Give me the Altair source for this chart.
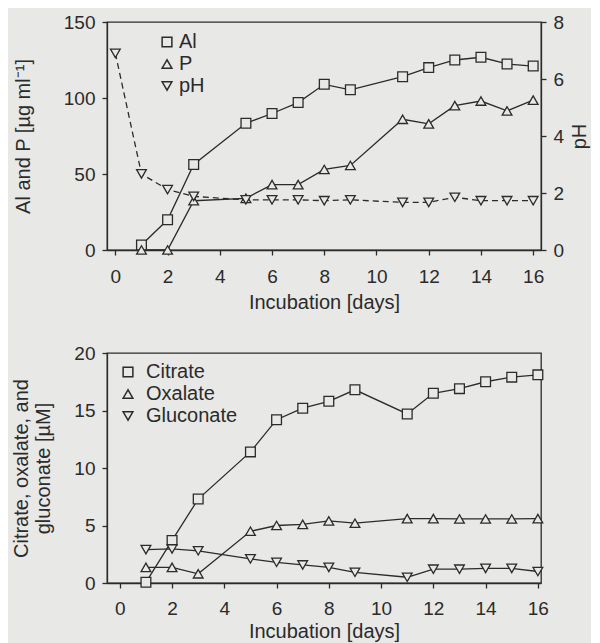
import altair as alt
import pandas as pd

# ---------------- data ----------------
days_top = [1, 2, 3, 5, 6, 7, 8, 9, 11, 12, 13, 14, 15, 16]
al_vals = [3.3, 19.9, 56.3, 83.4, 89.8, 97.0, 109.0, 105.4, 114.0, 120.0, 125.0, 126.8, 122.4, 121.0]
p_vals = [0.0, 0.0, 32.4, 34.0, 43.0, 43.0, 53.0, 55.6, 86.0, 83.0, 95.0, 98.0, 91.5, 98.6]
ph_days = [0, 1, 2, 3, 5, 6, 7, 8, 9, 11, 12, 13, 14, 15, 16]
ph_vals = [6.9, 2.67, 2.12, 1.88, 1.76, 1.76, 1.76, 1.73, 1.76, 1.67, 1.67, 1.85, 1.73, 1.73, 1.73]

days_bot = [1, 2, 3, 5, 6, 7, 8, 9, 11, 12, 13, 14, 15, 16]
citrate = [0.06, 3.7, 7.3, 11.4, 14.2, 15.2, 15.8, 16.8, 14.7, 16.5, 16.9, 17.5, 17.9, 18.1]
oxalate = [1.36, 1.36, 0.8, 4.5, 5.0, 5.1, 5.4, 5.2, 5.6, 5.6, 5.57, 5.57, 5.57, 5.6]
gluconate = [2.9, 2.96, 2.8, 2.1, 1.8, 1.57, 1.36, 0.93, 0.5, 1.2, 1.2, 1.27, 1.27, 1.0]

x_ticks = [0, 2, 4, 6, 8, 10, 12, 14, 16]

# ---------------- style ----------------
BG = "#e8e8e6"
INK = "#2b2b2b"
FONT = "Liberation Sans"
LW = 1.3
MSIZE = 95
LBL = 19
TTL = 20

top_df = pd.DataFrame({
    "day": days_top * 2,
    "value": al_vals + p_vals,
    "series": ["Al"] * len(days_top) + ["P"] * len(days_top),
})
ph_df = pd.DataFrame({"day": ph_days, "value": ph_vals, "series": ["pH"] * len(ph_days)})
bot_df = pd.DataFrame({
    "day": days_bot * 3,
    "value": citrate + oxalate + gluconate,
    "series": ["Citrate"] * len(days_bot) + ["Oxalate"] * len(days_bot) + ["Gluconate"] * len(days_bot),
})

shape_top = alt.Scale(domain=["Al", "P", "pH"], range=["square", "triangle-up", "triangle-down"])
shape_bot = alt.Scale(domain=["Citrate", "Oxalate", "Gluconate"],
                      range=["square", "triangle-up", "triangle-down"])


def legend(x, y, lo):
    return alt.Legend(
        title=None, orient="none", legendX=x, legendY=y,
        labelFont=FONT, labelFontSize=TTL, labelColor=INK, labelOffset=lo,
        symbolSize=MSIZE, rowPadding=2,
    )


def x_axis(lp, tp):
    return alt.Axis(values=x_ticks, title="Incubation [days]", labelPadding=lp,
                    titlePadding=tp, tickSize=5)


def points(base, x, y, shape):
    return base.mark_point(filled=False, color=INK, fill=BG, strokeWidth=LW,
                           size=MSIZE, opacity=1).encode(x=x, y=y, shape=shape)


# ---------------- top panel ----------------
x_top = alt.X("day:Q", scale=alt.Scale(domain=[-0.32, 16.3], nice=False, zero=False),
              axis=x_axis(12, 6))
y_left = alt.Y("value:Q", scale=alt.Scale(domain=[0, 150], nice=False),
               axis=alt.Axis(values=[0, 50, 100, 150], title="Al and P [µg ml⁻¹]",
                             titlePadding=30, orient="left"))
y_right = alt.Y("value:Q", scale=alt.Scale(domain=[0, 8], nice=False),
                axis=alt.Axis(values=[0, 2, 4, 6, 8], title="pH", orient="right",
                              titleAngle=270, titleBaseline="top", titlePadding=6))

shape_enc_top = alt.Shape("series:N", scale=shape_top, legend=legend(50, 10, 2))

base_top = alt.Chart(top_df)
lines_top = base_top.mark_line(color=INK, strokeWidth=LW).encode(x=x_top, y=y_left, detail="series:N")
pts_top = points(base_top, x_top, y_left, shape_enc_top)
left_layer = alt.layer(lines_top, pts_top)

base_ph = alt.Chart(ph_df)
line_ph = base_ph.mark_line(color=INK, strokeWidth=LW, strokeDash=[6, 4]).encode(x=x_top, y=y_right)
pts_ph = points(base_ph, x_top, y_right, shape_enc_top)
right_layer = alt.layer(line_ph, pts_ph)

top = alt.layer(left_layer, right_layer).resolve_scale(y="independent").properties(width=434, height=228)

# ---------------- bottom panel ----------------
x_bot = alt.X("day:Q", scale=alt.Scale(domain=[-0.49, 16.12], nice=False, zero=False),
              axis=x_axis(11, 3))
y_bot = alt.Y("value:Q", scale=alt.Scale(domain=[0, 20], nice=False),
              axis=alt.Axis(values=[0, 5, 10, 15, 20],
                            title=["Citrate, oxalate, and", "gluconate [µM]"],
                            titlePadding=20))
base_bot = alt.Chart(bot_df)
lines_bot = base_bot.mark_line(color=INK, strokeWidth=LW).encode(x=x_bot, y=y_bot, detail="series:N")
pts_bot = points(base_bot, x_bot, y_bot,
                 alt.Shape("series:N", scale=shape_bot, legend=legend(11, 9, 8)))
bottom = alt.layer(lines_bot, pts_bot).properties(width=434, height=230)

chart = alt.vconcat(top, bottom, spacing=30).resolve_scale(
    x="independent", y="independent", shape="independent"
).resolve_legend(shape="independent").properties(
    background=BG, padding={"left": 3, "top": 4, "right": 0, "bottom": 4}
).configure_view(
    stroke=INK, strokeWidth=LW
).configure_axis(
    grid=False, domainColor=INK, domainWidth=LW, tickColor=INK, tickWidth=LW,
    labelColor=INK, titleColor=INK, labelFont=FONT, titleFont=FONT,
    labelFontSize=LBL, titleFontSize=TTL, titleFontWeight="normal", labelPadding=7,
    tickSize=5,
)

chart.save("out.html", embed_options={"renderer": "svg", "actions": False})
